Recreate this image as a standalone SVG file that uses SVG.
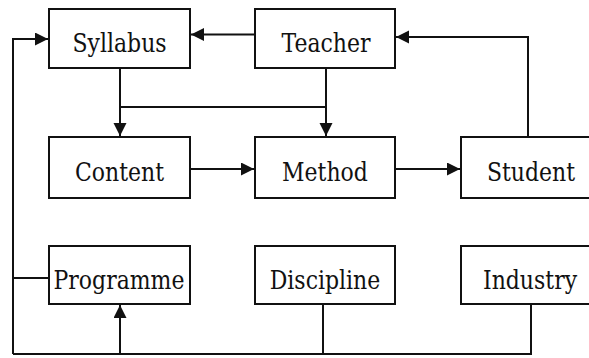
<svg xmlns="http://www.w3.org/2000/svg" width="589" height="358" viewBox="0 0 589 358">
<defs>
<style>
.box{fill:#fff;stroke:#111;stroke-width:2}
.lbl{font-family:"DejaVu Serif","Liberation Serif",serif;font-size:22px;fill:#111;text-anchor:middle}
.c{fill:none;stroke:#111;stroke-width:2}
</style>
<marker id="ah" markerUnits="userSpaceOnUse" markerWidth="14" markerHeight="14" refX="13" refY="6.5" orient="auto">
<path d="M0,0 L13,6.5 L0,13 Z" fill="#111"/>
</marker>
</defs>
<rect width="589" height="358" fill="#fff"/>
<g id="connectors">
<path class="c" d="M255,34.5 H191" marker-end="url(#ah)"/>
<path class="c" d="M528,137 V37 H396" marker-end="url(#ah)"/>
<path class="c" d="M13,354 V39 H48" marker-end="url(#ah)"/>
<path class="c" d="M49,278 H13"/>
<path class="c" d="M531,304 V354 H13"/>
<path class="c" d="M323,304 V354"/>
<path class="c" d="M120,354 V305" marker-end="url(#ah)"/>
<path class="c" d="M120,68 V136" marker-end="url(#ah)"/>
<path class="c" d="M120,107 H326"/>
<path class="c" d="M326,68 V136" marker-end="url(#ah)"/>
<path class="c" d="M190,169 H254" marker-end="url(#ah)"/>
<path class="c" d="M395,169 H460" marker-end="url(#ah)"/>
</g>
<g id="syllabus"><rect class="box" x="49" y="9" width="141" height="59"/><text class="lbl" transform="translate(119.5,52) scale(1,1.18)">Syllabus</text></g>
<g id="teacher"><rect class="box" x="255" y="9" width="140" height="59"/><text class="lbl" transform="translate(326,52) scale(1,1.18)">Teacher</text></g>
<g id="content"><rect class="box" x="49" y="137" width="141" height="61"/><text class="lbl" transform="translate(119.5,181) scale(1,1.18)">Content</text></g>
<g id="method"><rect class="box" x="255" y="137" width="140" height="61"/><text class="lbl" transform="translate(325,181) scale(1,1.18)">Method</text></g>
<g id="student"><rect class="box" x="461" y="137" width="140" height="61"/><text class="lbl" transform="translate(531,181) scale(1,1.18)">Student</text></g>
<g id="programme"><rect class="box" x="49" y="246" width="141" height="58"/><text class="lbl" transform="translate(119,289) scale(1,1.18)">Programme</text></g>
<g id="discipline"><rect class="box" x="255" y="246" width="140" height="58"/><text class="lbl" transform="translate(325,289) scale(1,1.18)">Discipline</text></g>
<g id="industry"><rect class="box" x="461" y="246" width="140" height="58"/><text class="lbl" transform="translate(530,289) scale(1,1.18)">Industry</text></g>
</svg>
